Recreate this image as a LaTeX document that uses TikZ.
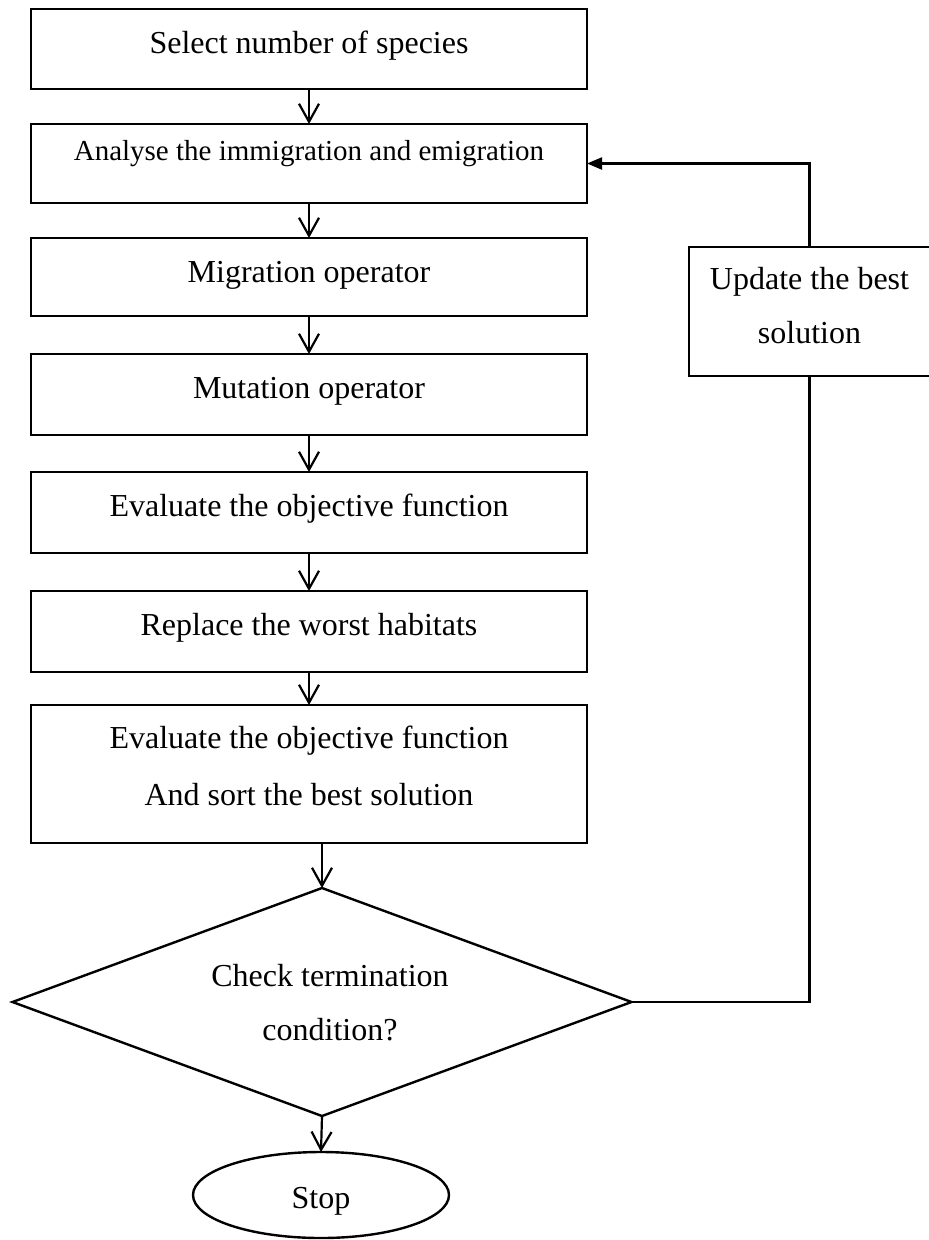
\documentclass[tikz,border=0pt]{standalone}
\usepackage{fontspec}
\setmainfont{Liberation Serif}
\usetikzlibrary{arrows.meta,shapes.geometric}
\tikzset{
  every node/.style={font=\fontsize{32pt}{57pt}\selectfont},
  box/.style={draw, line width=2.4pt, rectangle, inner sep=0pt, outer sep=0pt,
    minimum width=556pt, anchor=north, align=center},
  arr/.style={line width=2.2pt, -{Straight Barb[length=18pt,width=20pt]}},
  loopline/.style={line width=2.2pt},
  looparr/.style={line width=2.2pt, -{Triangle[length=15pt,width=12pt]}}
}
\begin{document}
\begin{tikzpicture}[x=1pt,y=-1pt]
\useasboundingbox (0,0) rectangle (929,1240);
\node[box, text height=44pt, text depth=36pt] (b1) at (309,9) {Select number of species};
\node[box, text height=36pt, text depth=43pt, font=\fontsize{29pt}{34pt}\selectfont] (b2) at (309,124) {Analyse the immigration and emigration};
\node[box, text height=44pt, text depth=34pt] (b3) at (309,238) {Migration operator};
\node[box, text height=44pt, text depth=37pt] (b4) at (309,354) {Mutation operator};
\node[box, text height=44pt, text depth=37pt] (b5) at (309,472) {Evaluate the objective function};
\node[box, text height=44pt, text depth=37pt] (b6) at (309,591) {Replace the worst habitats};
\node[box, text height=100pt, text depth=38pt] (b7) at (309,705) {Evaluate the objective function\\And sort the best solution};
\node[draw, line width=2.4pt, shape=diamond, inner sep=0pt, outer sep=0pt, aspect=2.715,
  minimum width=619pt, minimum height=228pt, align=center,
  text height=84pt, text depth=8pt, font=\fontsize{32pt}{54pt}\selectfont] (d) at (322,1002) {\hspace*{16pt}Check termination\\\hspace*{16pt}condition?};
\node[draw, line width=2.4pt, shape=ellipse, inner sep=0pt, outer sep=0pt,
  minimum width=256pt, minimum height=86pt, text height=26pt, text depth=0pt] (stop) at (321,1195) {Stop};
\node[draw, line width=2.4pt, rectangle, inner sep=0pt, outer sep=0pt, anchor=north,
  minimum width=241pt, align=center, text height=96pt, text depth=33pt,
  font=\fontsize{32pt}{54pt}\selectfont] (upd) at (809.5,247) {Update the best\\solution};
\draw[arr] (b1.south) -- (b2.north);
\draw[arr] (b2.south) -- (b3.north);
\draw[arr] (b3.south) -- (b4.north);
\draw[arr] (b4.south) -- (b5.north);
\draw[arr] (b5.south) -- (b6.north);
\draw[arr] (b6.south) -- (b7.north);
\draw[arr] (b7.south -| d.north) -- (d.north);
\draw[arr] (d.south) -- (stop.north);
\draw[loopline] (d.east) -- (d.east -| upd.south) -- (upd.south);
\draw[looparr] (upd.north) |- (b2.east);
\end{tikzpicture}
\end{document}
